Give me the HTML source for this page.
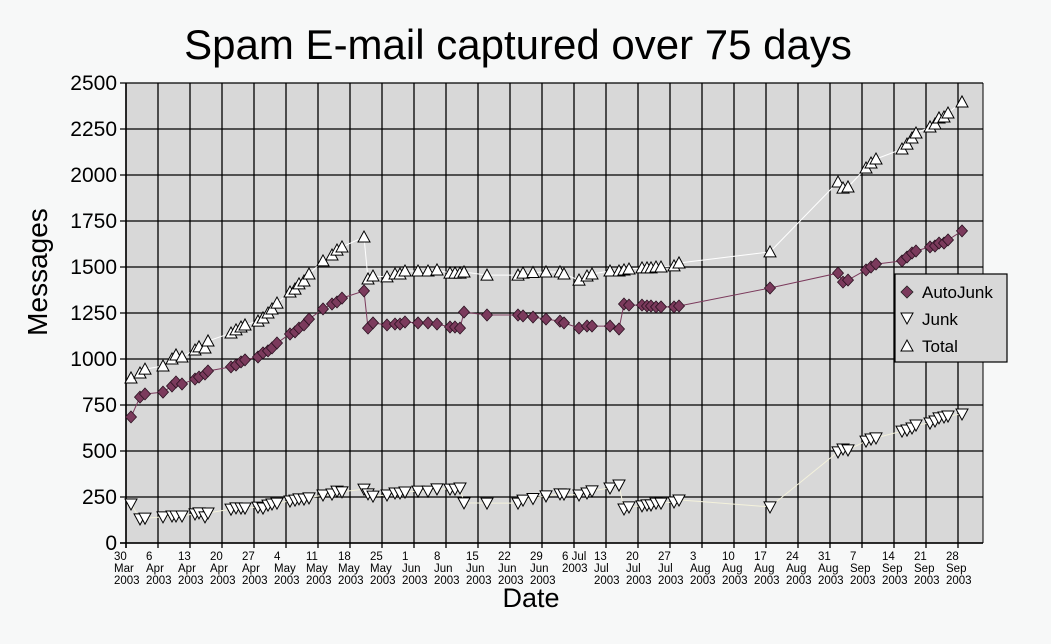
<!DOCTYPE html>
<html><head><meta charset="utf-8"><style>
body{margin:0;background:#f7f8f8;}
svg{display:block;font-family:"Liberation Sans",Arial,sans-serif;}
</style></head><body>
<svg id="s" width="1051" height="644" xmlns="http://www.w3.org/2000/svg">
<rect width="1051" height="644" fill="#f7f8f8"/>
<text x="518" y="59" font-size="42" text-anchor="middle">Spam E-mail captured over 75 days</text>
<text transform="translate(47,272) rotate(-90)" font-size="28" text-anchor="middle">Messages</text>
<text x="531" y="607" font-size="27" text-anchor="middle">Date</text>
<rect x="126" y="83" width="857" height="460" fill="#d8d8d8"/>
<g id="g"></g>
<g id="d"></g>
<rect x="895" y="274" width="112" height="88" fill="#d8d8d8" stroke="#000" stroke-width="1.2"/>
<polygon points="907,286 913,292 907,298 901,292" fill="#7b3a5c" stroke="#222" stroke-width="0.8"/>
<text x="922" y="298" font-size="17">AutoJunk</text>
<polygon points="901,313 913,313 907,324" fill="#fff" stroke="#000" stroke-width="1"/>
<text x="922" y="325" font-size="17">Junk</text>
<polygon points="901,351 913,351 907,340" fill="#fff" stroke="#000" stroke-width="1"/>
<text x="922" y="352" font-size="17">Total</text>
</svg>
<script>
var NS="http://www.w3.org/2000/svg",g=document.getElementById('g'),d=document.getElementById('d');
function el(p,t,a,txt){var e=document.createElementNS(NS,t);for(var k in a)e.setAttribute(k,a[k]);if(txt!==undefined)e.textContent=txt;p.appendChild(e);return e;}
function Y(v){return 543-v*46/250;}
for(var i=0;i<=10;i++){var y=Y(i*250);el(g,'line',{x1:120,x2:983,y1:y,y2:y,stroke:'#000','stroke-width':1.3});
el(g,'text',{x:117,y:y+7,'font-size':21,'text-anchor':'end'},String(i*250));}
var labs=[["30","Mar"],["6","Apr"],["13","Apr"],["20","Apr"],["27","Apr"],["4","May"],["11","May"],["18","May"],["25","May"],["1","Jun"],["8","Jun"],["15","Jun"],["22","Jun"],["29","Jun"],["6 Jul",""],["13","Jul"],["20","Jul"],["27","Jul"],["3","Aug"],["10","Aug"],["17","Aug"],["24","Aug"],["31","Aug"],["7","Sep"],["14","Sep"],["21","Sep"],["28","Sep"]];
for(var i=0;i<labs.length;i++){var x=126+i*32;
el(g,'line',{x1:x,x2:x,y1:83,y2:548,stroke:'#000','stroke-width':1.3});
var lx=x-12;
if(labs[i][1]===""){el(g,'text',{x:lx,y:560,'font-size':11.5},labs[i][0]);el(g,'text',{x:lx,y:572,'font-size':11.5},"2003");}
else{el(g,'text',{x:lx,y:560,'font-size':11.5},labs[i][0]);el(g,'text',{x:lx,y:572,'font-size':11.5},labs[i][1]);el(g,'text',{x:lx,y:584,'font-size':11.5},"2003");}}
el(g,'line',{x1:983,x2:983,y1:83,y2:543,stroke:'#000','stroke-width':1});
el(g,'line',{x1:126,x2:126,y1:83,y2:548,stroke:'#000','stroke-width':1.5});
el(g,'line',{x1:120,x2:983,y1:543,y2:543,stroke:'#000','stroke-width':1.5});
var P=[[131,685,897],[140,793,924],[145,810,945],[163,820,962],[172,853,1000],[176,875,1022],[182,864,1011],[195,891,1049],[199,902,1066],[205,918,1060],[208,935,1098],[231,957,1141],[236,967,1158],[241,984,1174],[245,995,1185],[258,1011,1206],[263,1033,1223],[268,1044,1250],[272,1060,1272],[277,1087,1304],[290,1136,1364],[295,1147,1380],[299,1168,1408],[304,1185,1424],[309,1217,1462],[323,1272,1533],[332,1299,1565],[337,1310,1592],[342,1331,1609],[364,1370,1663],[368,1168,1435],[373,1196,1451],[387,1185,1446],[395,1190,1462],[400,1190,1462],[405,1201,1478],[418,1196,1478],[428,1196,1478],[437,1190,1484],[450,1174,1467],[455,1174,1467],[460,1168,1467],[464,1255,1473],[487,1239,1456],[518,1239,1456],[523,1234,1467],[533,1228,1470],[546,1217,1473],[560,1206,1473],[564,1196,1462],[579,1168,1429],[587,1179,1451],[592,1179,1462],[610,1179,1478],[619,1163,1478],[624,1299,1484],[629,1293,1489],[642,1293,1495],[647,1288,1495],[651,1288,1495],[656,1283,1500],[661,1283,1500],[674,1283,1506],[679,1288,1522],[770,1386,1582],[838,1467,1962],[843,1418,1929],[848,1429,1935],[866,1484,2038],[871,1500,2065],[876,1516,2087],[902,1533,2141],[907,1554,2168],[912,1576,2201],[916,1587,2228],[930,1609,2261],[935,1614,2277],[939,1630,2310],[944,1630,2315],[948,1647,2337],[962,1696,2397]];
function line(f,c,w){el(d,'polyline',{points:P.map(function(p){return p[0]+','+Y(f(p)).toFixed(1)}).join(' '),fill:'none',stroke:c,'stroke-width':w});}
line(function(p){return p[2]-p[1]},'#f4f2dc',1);
line(function(p){return p[2]},'#ffffff',1);
line(function(p){return p[1]},'#7b3a5c',1);
P.forEach(function(p){var x=p[0],y=Y(p[2]-p[1]);
el(d,'polygon',{points:(x-6)+','+(y-5)+' '+(x+6)+','+(y-5)+' '+x+','+(y+6),fill:'#fff',stroke:'#000','stroke-width':1});});
P.forEach(function(p){var x=p[0],y=Y(p[2]);
el(d,'polygon',{points:(x-6)+','+(y+5)+' '+(x+6)+','+(y+5)+' '+x+','+(y-6),fill:'#fff',stroke:'#000','stroke-width':1});});
P.forEach(function(p){var x=p[0],y=Y(p[1]);
el(d,'polygon',{points:x+','+(y-6)+' '+(x+5.5)+','+y+' '+x+','+(y+6)+' '+(x-5.5)+','+y,fill:'#7b3a5c',stroke:'#2a1020','stroke-width':0.8});});
</script>
</body></html>
